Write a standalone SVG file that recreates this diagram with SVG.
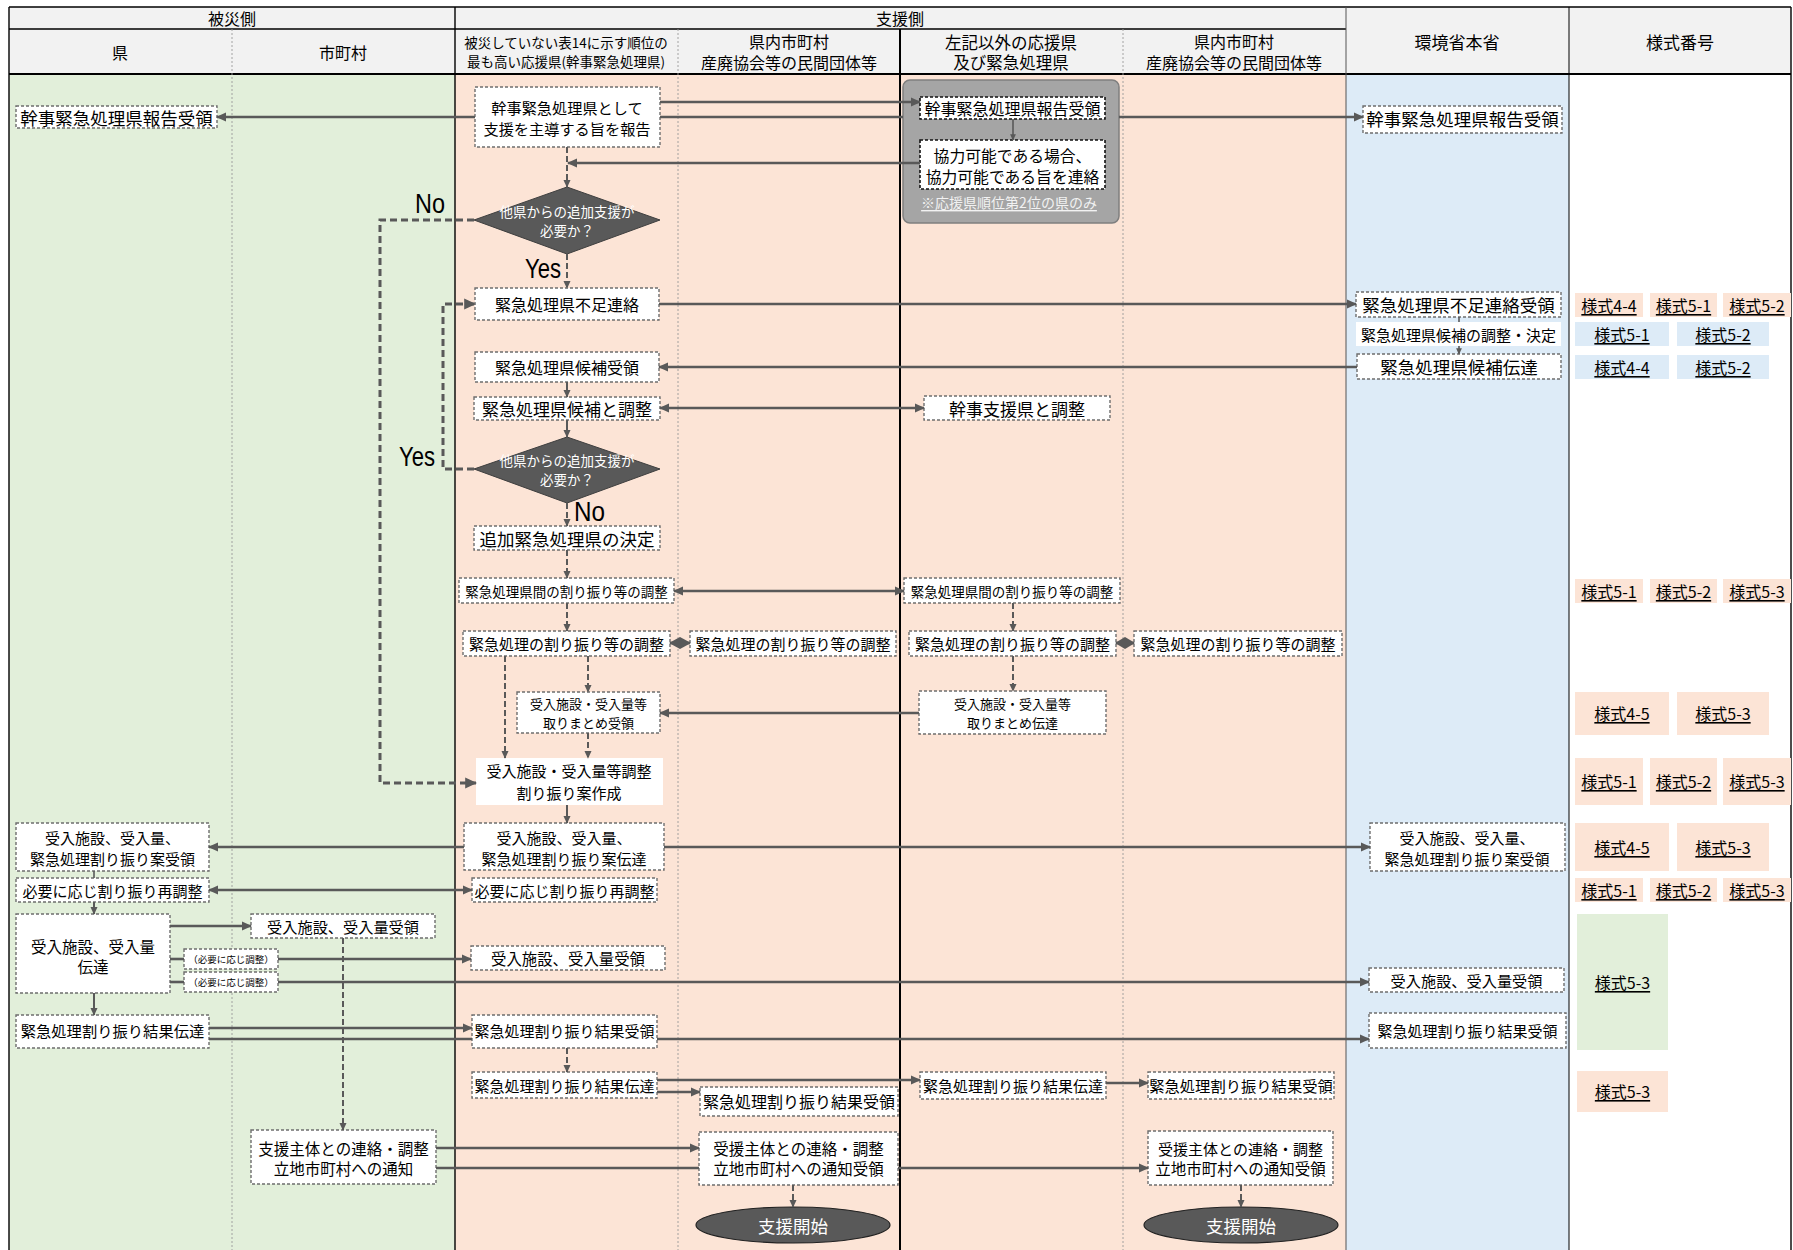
<svg xmlns="http://www.w3.org/2000/svg" width="1793" height="1250" viewBox="0 0 1793 1250">
<defs>
<style>
text{font-family:"Noto Sans CJK JP","Noto Sans CJK SC",sans-serif;text-anchor:middle;dominant-baseline:central;fill:#000}
.b{fill:#fff;stroke:#6e6e6e;stroke-width:1.4;stroke-dasharray:3 2}
.bk{fill:#fff;stroke:#111;stroke-width:1.6;stroke-dasharray:3 2}
.w{fill:#fff}
.dm{fill:#595959;stroke:#3f3f3f;stroke-width:1}
.c{stroke:#595959;stroke-width:2.6;fill:none}
.cs{stroke:#595959;stroke-width:2;fill:none}
.cv{stroke:#595959;stroke-width:2;fill:none;stroke-dasharray:6 3}
.cl{stroke:#595959;stroke-width:3;fill:none;stroke-dasharray:7 4}
.ct{stroke:#595959;stroke-width:1.6;fill:none}
.yn{font-family:"Liberation Sans",sans-serif;text-anchor:start;dominant-baseline:alphabetic;font-size:28px}
.tg text{text-decoration:underline;font-size:16px}
.ts{fill:#fce4d6}.tb{fill:#ddebf7}.tgn{fill:#e2efda}
.grid line{stroke:#000;stroke-width:1.4}
.grid .dot{stroke:#9a9a9a;stroke-width:0.9;stroke-dasharray:2 2}
</style>
<marker id="ah" viewBox="0 0 10 10" refX="9" refY="5" markerWidth="4" markerHeight="4" orient="auto-start-reverse"><path d="M0,0.5 L10,5 L0,9.5z" fill="#595959"/></marker>
</defs>
<rect x="0" y="0" width="1793" height="1250" fill="#fff"/>
<g id="lanes">
<rect x="9" y="74" width="446" height="1176" fill="#e2efda"/>
<rect x="455" y="74" width="891" height="1176" fill="#fce4d6"/>
<rect x="1346" y="74" width="223" height="1176" fill="#ddebf7"/>
<rect x="9" y="7" width="1782" height="67" fill="#f2f2f2"/>
</g>
<g id="grid" class="grid">
<line x1="9" y1="7" x2="1791" y2="7"/>
<line x1="9" y1="29" x2="1346" y2="29"/>
<line x1="9" y1="74" x2="1791" y2="74" style="stroke-width:2"/>
<line x1="9" y1="7" x2="9" y2="1250"/>
<line x1="455" y1="7" x2="455" y2="1250"/>
<line x1="900" y1="29" x2="900" y2="1250" style="stroke-width:2"/>
<line x1="1346" y1="7" x2="1346" y2="1250" style="stroke:#555;stroke-width:1"/>
<line x1="1569" y1="7" x2="1569" y2="1250" style="stroke-width:1"/>
<line x1="1791" y1="7" x2="1791" y2="1250"/>
<line class="dot" x1="232" y1="29" x2="232" y2="1250"/>
<line class="dot" x1="678" y1="29" x2="678" y2="1250"/>
<line class="dot" x1="1123" y1="29" x2="1123" y2="1250"/>
</g>
<g id="header-text">
<text x="232" y="18" font-size="16">被災側</text>
<text x="900" y="18" font-size="16">支援側</text>
<text x="120" y="52" font-size="16">県</text>
<text x="343" y="52" font-size="16">市町村</text>
<text x="566" y="42" font-size="13.5">被災していない表14に示す順位の</text>
<text x="566" y="61" font-size="13.5">最も高い応援県(幹事緊急処理県)</text>
<text x="789" y="41" font-size="16">県内市町村</text>
<text x="789" y="62" font-size="16">産廃協会等の民間団体等</text>
<text x="1011" y="42" font-size="16.5">左記以外の応援県</text>
<text x="1011" y="62" font-size="16.5">及び緊急処理県</text>
<text x="1234" y="41" font-size="16">県内市町村</text>
<text x="1234" y="62" font-size="16">産廃協会等の民間団体等</text>
<text x="1457" y="41" font-size="17">環境省本省</text>
<text x="1680" y="41" font-size="17">様式番号</text>
</g>
<g id="ken">
<g id="k1"><rect class="b" x="16" y="106" width="201" height="22"/><text x="116.5" y="117" font-size="17.5">幹事緊急処理県報告受領</text></g>
<g id="k2"><rect class="b" x="16" y="823" width="193" height="48"/><text x="112.5" y="837" font-size="15">受入施設、受入量、</text><text x="112.5" y="858" font-size="15">緊急処理割り振り案受領</text></g>
<g id="k3"><rect class="b" x="16" y="878" width="193" height="24"/><text x="112.5" y="890" font-size="15">必要に応じ割り振り再調整</text></g>
<g id="k4"><rect class="b" x="16" y="914" width="154" height="79"/><text x="93" y="946" font-size="15.5">受入施設、受入量</text><text x="93" y="966" font-size="15.5">伝達</text></g>
<g id="k5"><rect class="b" x="16" y="1015" width="193" height="33"/><text x="112.5" y="1030" font-size="15.3">緊急処理割り振り結果伝達</text></g>
</g>
<g id="shichoson">
<g id="s1"><rect class="b" x="251" y="914" width="184" height="24"/><text x="343" y="926" font-size="15.2">受入施設、受入量受領</text></g>
<g id="s2"><rect class="b" x="184" y="949" width="94" height="20"/><text x="231" y="959" font-size="9.5">（必要に応じ調整）</text></g>
<g id="s3"><rect class="b" x="184" y="972" width="94" height="20"/><text x="231" y="982" font-size="9.5">（必要に応じ調整）</text></g>
<g id="s4"><rect class="b" x="251" y="1130" width="185" height="54"/><text x="343.5" y="1148" font-size="15.5">支援主体との連絡・調整</text><text x="343.5" y="1168" font-size="15.5">立地市町村への通知</text></g>
</g>
<g id="kanji">
<g id="m1"><rect class="b" x="475" y="87" width="185" height="60"/><text x="567" y="107" font-size="15.2">幹事緊急処理県として</text><text x="567" y="128" font-size="15.2">支援を主導する旨を報告</text></g>
<g id="d1"><polygon class="dm" points="567,187 660,220 567,254 474,220"/><text x="567" y="211" font-size="13.5" style="fill:#fff">他県からの追加支援が</text><text x="567" y="230" font-size="13.5" style="fill:#fff">必要か？</text></g>
<g id="m2"><rect class="b" x="475" y="288" width="184" height="32"/><text x="567" y="304" font-size="16">緊急処理県不足連絡</text></g>
<g id="m3"><rect class="b" x="475" y="352" width="184" height="30"/><text x="567" y="367" font-size="16">緊急処理県候補受領</text></g>
<g id="m4"><rect class="b" x="474" y="397" width="186" height="23"/><text x="567" y="408.5" font-size="17">緊急処理県候補と調整</text></g>
<g id="d2"><polygon class="dm" points="567,437 660,469 567,503 474,469"/><text x="567" y="460" font-size="13.5" style="fill:#fff">他県からの追加支援が</text><text x="567" y="479" font-size="13.5" style="fill:#fff">必要か？</text></g>
<g id="m5"><rect class="b" x="474" y="526" width="186" height="24"/><text x="567" y="538" font-size="17.5">追加緊急処理県の決定</text></g>
<g id="m6"><rect class="b" x="459" y="578" width="215" height="25"/><text x="566.5" y="590.5" font-size="13.5">緊急処理県間の割り振り等の調整</text></g>
<g id="m7"><rect class="b" x="463" y="631" width="207" height="25"/><text x="566.5" y="643.5" font-size="15">緊急処理の割り振り等の調整</text></g>
<g id="m8"><rect class="b" x="517" y="692" width="143" height="41"/><text x="588.5" y="703" font-size="13">受入施設・受入量等</text><text x="588.5" y="722" font-size="13">取りまとめ受領</text></g>
<g id="m9"><rect class="w" x="476" y="758" width="187" height="47"/><text x="569" y="770" font-size="15">受入施設・受入量等調整</text><text x="569" y="792" font-size="15">割り振り案作成</text></g>
<g id="m10"><rect class="b" x="464" y="823" width="200" height="47"/><text x="564" y="837" font-size="15">受入施設、受入量、</text><text x="564" y="858" font-size="15">緊急処理割り振り案伝達</text></g>
<g id="m11"><rect class="b" x="472" y="878" width="185" height="24"/><text x="564.5" y="890" font-size="15">必要に応じ割り振り再調整</text></g>
<g id="m12"><rect class="b" x="471" y="946" width="194" height="24"/><text x="568" y="958" font-size="15.4">受入施設、受入量受領</text></g>
<g id="m13"><rect class="b" x="472" y="1015" width="185" height="33"/><text x="564.5" y="1030" font-size="15">緊急処理割り振り結果受領</text></g>
<g id="m14"><rect class="b" x="472" y="1072" width="185" height="26"/><text x="564.5" y="1085" font-size="15">緊急処理割り振り結果伝達</text></g>
<g id="yn">
<text class="yn" x="415" y="213" textLength="30" lengthAdjust="spacingAndGlyphs">No</text>
<text class="yn" x="525" y="278" textLength="36" lengthAdjust="spacingAndGlyphs">Yes</text>
<text class="yn" x="399" y="466" textLength="36" lengthAdjust="spacingAndGlyphs">Yes</text>
<text class="yn" x="574" y="521" textLength="31" lengthAdjust="spacingAndGlyphs">No</text>
</g>
</g>
<g id="kennai1">
<g id="p1"><rect class="b" x="690" y="631" width="206" height="25"/><text x="793" y="643.5" font-size="15">緊急処理の割り振り等の調整</text></g>
<g id="p2"><rect class="b" x="700" y="1087" width="198" height="29"/><text x="799" y="1101" font-size="16">緊急処理割り振り結果受領</text></g>
<g id="p3"><rect class="b" x="699" y="1132" width="199" height="53"/><text x="798.5" y="1148" font-size="15.5">受援主体との連絡・調整</text><text x="798.5" y="1168" font-size="15.5">立地市町村への通知受領</text></g>
<g id="p4"><ellipse cx="793" cy="1225" rx="97" ry="18" fill="#595959" stroke="#222" stroke-width="1.2"/><text x="793" y="1225" font-size="17.5" style="fill:#fff">支援開始</text></g>
</g>
<g id="sakiigai">
<g id="grp"><rect x="903" y="80" width="216" height="143" rx="7" fill="#a5a5a5" stroke="#7f7f7f" stroke-width="1.5"/></g>
<g id="l1"><rect class="bk" x="920" y="97" width="185" height="22"/><text x="1012.5" y="108" font-size="16">幹事緊急処理県報告受領</text></g>
<g id="l2"><rect class="bk" x="920" y="140" width="185" height="49"/><text x="1012.5" y="155" font-size="15.8">協力可能である場合、</text><text x="1012.5" y="176" font-size="15.8">協力可能である旨を連絡</text></g>
<g id="l3"><text x="1009" y="202" font-size="14" style="fill:#f2f2f2;text-decoration:underline">※応援県順位第2位の県のみ</text></g>
<g id="l4"><rect class="b" x="924" y="396" width="186" height="24"/><text x="1017" y="408" font-size="17">幹事支援県と調整</text></g>
<g id="l5"><rect class="b" x="904" y="578" width="216" height="25"/><text x="1012" y="590.5" font-size="13.5">緊急処理県間の割り振り等の調整</text></g>
<g id="l6"><rect class="b" x="909" y="631" width="207" height="25"/><text x="1012.5" y="643.5" font-size="15">緊急処理の割り振り等の調整</text></g>
<g id="l7"><rect class="b" x="919" y="691" width="187" height="43"/><text x="1012.5" y="703" font-size="13">受入施設・受入量等</text><text x="1012.5" y="722" font-size="13">取りまとめ伝達</text></g>
<g id="l8"><rect class="b" x="920" y="1072" width="186" height="27"/><text x="1013" y="1085" font-size="15">緊急処理割り振り結果伝達</text></g>
</g>
<g id="kennai2">
<g id="q1"><rect class="b" x="1134" y="631" width="208" height="25"/><text x="1238" y="643.5" font-size="15">緊急処理の割り振り等の調整</text></g>
<g id="q2"><rect class="b" x="1148" y="1072" width="186" height="27"/><text x="1241" y="1085" font-size="15.3">緊急処理割り振り結果受領</text></g>
<g id="q3"><rect class="b" x="1148" y="1131" width="185" height="54"/><text x="1240.5" y="1148" font-size="15">受援主体との連絡・調整</text><text x="1240.5" y="1168" font-size="15.5">立地市町村への通知受領</text></g>
<g id="q4"><ellipse cx="1241" cy="1225" rx="97" ry="18" fill="#595959" stroke="#222" stroke-width="1.2"/><text x="1241" y="1225" font-size="17.5" style="fill:#fff">支援開始</text></g>
</g>
<g id="kankyo">
<g id="e1"><rect class="b" x="1363" y="106" width="199" height="27"/><text x="1462.5" y="118" font-size="17.5">幹事緊急処理県報告受領</text></g>
<g id="e2"><rect class="b" x="1356" y="292" width="205" height="25"/><text x="1458.5" y="304.5" font-size="17.5">緊急処理県不足連絡受領</text></g>
<g id="e3"><rect class="w" x="1356" y="322" width="205" height="24"/><text x="1458.5" y="334" font-size="15">緊急処理県候補の調整・決定</text></g>
<g id="e4"><rect class="b" x="1357" y="354" width="204" height="25"/><text x="1459" y="366.5" font-size="17.5">緊急処理県候補伝達</text></g>
<g id="e5"><rect class="b" x="1370" y="823" width="195" height="48"/><text x="1467" y="837" font-size="15">受入施設、受入量、</text><text x="1467" y="858" font-size="15">緊急処理割り振り案受領</text></g>
<g id="e6"><rect class="b" x="1369" y="968" width="195" height="24"/><text x="1466.5" y="980" font-size="15.2">受入施設、受入量受領</text></g>
<g id="e7"><rect class="b" x="1369" y="1013" width="197" height="35"/><text x="1467.5" y="1030" font-size="15">緊急処理割り振り結果受領</text></g>
</g>
<g id="yoshiki" class="tg">
<rect class="ts" x="1575" y="293" width="68" height="24"/><text x="1609" y="305">様式4-4</text>
<rect class="ts" x="1650" y="293" width="67" height="24"/><text x="1683.5" y="305">様式5-1</text>
<rect class="ts" x="1723" y="293" width="68" height="24"/><text x="1757" y="305">様式5-2</text>
<rect class="tb" x="1575" y="322" width="94" height="24"/><text x="1622" y="334">様式5-1</text>
<rect class="tb" x="1677" y="322" width="92" height="24"/><text x="1723" y="334">様式5-2</text>
<rect class="tb" x="1575" y="355" width="94" height="24"/><text x="1622" y="367">様式4-4</text>
<rect class="tb" x="1677" y="355" width="92" height="24"/><text x="1723" y="367">様式5-2</text>
<rect class="ts" x="1575" y="579" width="68" height="24"/><text x="1609" y="591">様式5-1</text>
<rect class="ts" x="1650" y="579" width="67" height="24"/><text x="1683.5" y="591">様式5-2</text>
<rect class="ts" x="1723" y="579" width="68" height="24"/><text x="1757" y="591">様式5-3</text>
<rect class="ts" x="1575" y="692" width="94" height="43"/><text x="1622" y="713">様式4-5</text>
<rect class="ts" x="1677" y="692" width="92" height="43"/><text x="1723" y="713">様式5-3</text>
<rect class="ts" x="1575" y="758" width="68" height="47"/><text x="1609" y="781">様式5-1</text>
<rect class="ts" x="1650" y="758" width="67" height="47"/><text x="1683.5" y="781">様式5-2</text>
<rect class="ts" x="1723" y="758" width="68" height="47"/><text x="1757" y="781">様式5-3</text>
<rect class="ts" x="1575" y="823" width="94" height="48"/><text x="1622" y="847">様式4-5</text>
<rect class="ts" x="1677" y="823" width="92" height="48"/><text x="1723" y="847">様式5-3</text>
<rect class="ts" x="1575" y="878" width="68" height="24"/><text x="1609" y="890">様式5-1</text>
<rect class="ts" x="1650" y="878" width="67" height="24"/><text x="1683.5" y="890">様式5-2</text>
<rect class="ts" x="1723" y="878" width="68" height="24"/><text x="1757" y="890">様式5-3</text>
<rect class="tgn" x="1577" y="914" width="91" height="136"/><text x="1622.5" y="982">様式5-3</text>
<rect class="ts" x="1577" y="1071" width="91" height="41"/><text x="1622.5" y="1091">様式5-3</text>
</g>
<g id="connectors">
<path class="c" d="M475,117H217" marker-end="url(#ah)"/>
<path class="c" d="M660,102H920" marker-end="url(#ah)"/>
<path class="c" d="M660,117H903"/>
<path class="c" d="M1119,117H1363" marker-end="url(#ah)"/>
<path class="c" d="M920,163H568" marker-end="url(#ah)"/>
<path class="cv" d="M567,147V187" marker-end="url(#ah)"/>
<path class="ct" d="M1013,119V140" marker-end="url(#ah)"/>
<path class="cv" d="M567,254V288" marker-end="url(#ah)"/>
<path class="cl" d="M474,220H380V783H476" marker-end="url(#ah)"/>
<path class="c" d="M659,304H1356" marker-end="url(#ah)"/>
<path class="ct" d="M1459,317V322"/>
<path class="ct" d="M1459,346V354" marker-end="url(#ah)"/>
<path class="c" d="M1357,367H659" marker-end="url(#ah)"/>
<path class="cs" d="M567,382V397" marker-end="url(#ah)"/>
<path class="c" d="M660,408H924" marker-start="url(#ah)" marker-end="url(#ah)"/>
<path class="cs" d="M567,420V437" marker-end="url(#ah)"/>
<path class="cl" d="M474,469H443V304H475" marker-end="url(#ah)"/>
<path class="cv" d="M567,503V526" marker-end="url(#ah)"/>
<path class="cv" d="M567,550V578" marker-end="url(#ah)"/>
<path class="c" d="M674,591H904" marker-start="url(#ah)" marker-end="url(#ah)"/>
<path class="cv" d="M567,603V631" marker-end="url(#ah)"/>
<path class="cv" d="M1013,603V631" marker-end="url(#ah)"/>
<path class="c" d="M670,643H690"/>
<polygon points="669,643 680,637 691,643 680,649" fill="#595959"/>
<path class="c" d="M1116,643H1134"/>
<polygon points="1115,643 1125,637 1135,643 1125,649" fill="#595959"/>
<path class="cv" d="M505,656V758" marker-end="url(#ah)"/>
<path class="cv" d="M588,656V692" marker-end="url(#ah)"/>
<path class="cv" d="M588,733V758" marker-end="url(#ah)"/>
<path class="c" d="M919,713H660" marker-end="url(#ah)"/>
<path class="cv" d="M1013,656V691" marker-end="url(#ah)"/>
<path class="cs" d="M567,805V823" marker-end="url(#ah)"/>
<path class="c" d="M464,847H209" marker-end="url(#ah)"/>
<path class="c" d="M664,847H1370" marker-end="url(#ah)"/>
<path class="ct" d="M94,871V878"/>
<path class="c" d="M209,890H472" marker-start="url(#ah)" marker-end="url(#ah)"/>
<path class="cs" d="M94,902V914" marker-end="url(#ah)"/>
<path class="c" d="M170,926H251" marker-end="url(#ah)"/>
<path class="c" d="M170,959H184"/>
<path class="c" d="M278,959H471" marker-end="url(#ah)"/>
<path class="c" d="M170,982H184"/>
<path class="c" d="M278,982H1369" marker-end="url(#ah)"/>
<path class="cs" d="M94,993V1015" marker-end="url(#ah)"/>
<path class="c" d="M209,1028H472" marker-end="url(#ah)"/>
<path class="c" d="M209,1039H472"/>
<path class="c" d="M657,1039H1369" marker-end="url(#ah)"/>
<path class="cv" d="M343,938V1130" marker-end="url(#ah)"/>
<path class="cv" d="M567,1048V1072" marker-end="url(#ah)"/>
<path class="c" d="M657,1080H920" marker-end="url(#ah)"/>
<path class="c" d="M657,1092H700" marker-end="url(#ah)"/>
<path class="c" d="M1106,1083H1148" marker-end="url(#ah)"/>
<path class="c" d="M436,1148H699" marker-end="url(#ah)"/>
<path class="c" d="M436,1168H699"/>
<path class="c" d="M898,1168H1148" marker-end="url(#ah)"/>
<path class="cv" d="M793,1185V1207" marker-end="url(#ah)"/>
<path class="cv" d="M1241,1185V1207" marker-end="url(#ah)"/>
</g>
</svg>
